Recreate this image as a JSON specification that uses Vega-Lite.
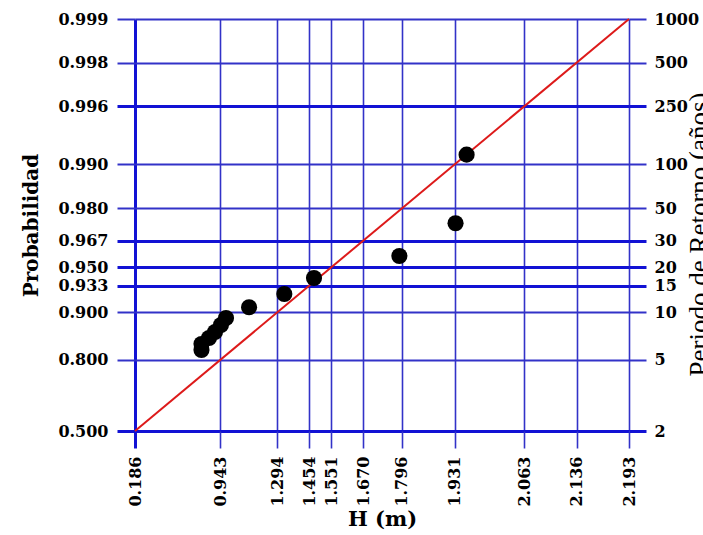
{
  "$schema": "https://vega.github.io/schema/vega-lite/v6.json",
  "width": 494,
  "height": 412,
  "autosize": {"type": "none"},
  "padding": {"left": 135, "top": 19, "right": 74, "bottom": 104},
  "background": "white",
  "config": {
    "view": {"stroke": null},
    "axis": {
      "labelFont": "DejaVu Serif", "labelFontWeight": "bold", "labelFontSize": 16, "labelColor": "black",
      "titleFont": "DejaVu Serif", "titleFontWeight": "bold", "titleFontSize": 20, "titleColor": "black",
      "domain": false, "labelOverlap": false, "labelFlush": false, "labelBound": false
    }
  },
  "datasets": {
    "obs": [
      {"H": 0.778, "p": 0.8203},
      {"H": 0.778, "p": 0.833},
      {"H": 0.845, "p": 0.8457},
      {"H": 0.8985, "p": 0.8584},
      {"H": 0.949, "p": 0.8732},
      {"H": 0.98, "p": 0.8879},
      {"H": 1.122, "p": 0.9063},
      {"H": 1.3305, "p": 0.9229},
      {"H": 1.476, "p": 0.9402},
      {"H": 1.789, "p": 0.957},
      {"H": 1.933, "p": 0.9739},
      {"H": 1.954, "p": 0.991}
    ],
    "fit": [
      {"H": 0.186, "p": 0.5},
      {"H": 2.193, "p": 0.999}
    ]
  },
  "layer": [
    {
      "data": {"name": "fit"},
      "mark": {"type": "line", "color": "#dd1a1a", "strokeWidth": 2},
      "encoding": {
        "x": {
          "field": "H", "type": "quantitative",
          "scale": {"type": "linear", "nice": false, "zero": false,
            "domain": [0.186, 0.943, 1.294, 1.454, 1.551, 1.67, 1.796, 1.931, 2.063, 2.136, 2.193],
            "range": [0, 85, 142, 174, 196, 228, 266.5, 319.5, 389, 441.5, 494]},
          "axis": {
            "title": "H (m)", "format": ".3f", "labelAngle": -90, "titleFontSize": 21,
            "values": [0.186, 0.943, 1.294, 1.454, 1.551, 1.67, 1.796, 1.931, 2.063, 2.136, 2.193],
            "grid": true,
            "gridColor": {"condition": {"test": "datum.value == 0.186", "value": "#1212d4"}, "value": "#3232c8"},
            "gridWidth": {"condition": {"test": "datum.value == 0.186", "value": 3}, "value": 1.6},
            "tickColor": {"condition": {"test": "datum.value == 0.186", "value": "#1212d4"}, "value": "#3232c8"},
            "tickWidth": {"condition": {"test": "datum.value == 0.186", "value": 3}, "value": 1.6},
            "tickSize": 17, "labelPadding": 8, "titlePadding": 2
          }
        },
        "y": {
          "field": "p", "type": "quantitative",
          "scale": {"type": "linear", "nice": false, "zero": false,
            "domain": [0.5, 0.8, 0.9, 0.93333, 0.95, 0.96667, 0.98, 0.99, 0.996, 0.998, 0.999],
            "range": [412, 340.6, 293.3, 266.7, 248.0, 221.9, 189.3, 145.3, 87.4, 43.7, 0]},
          "axis": {
            "orient": "left", "title": "Probabilidad", "format": ".3f",
            "values": [0.5, 0.8, 0.9, 0.93333, 0.95, 0.96667, 0.98, 0.99, 0.996, 0.998, 0.999],
            "grid": true,
            "gridColor": {"condition": {"test": "datum.value == 0.5 || datum.value == 0.93333 || datum.value == 0.95 || datum.value == 0.96667 || datum.value == 0.996", "value": "#1212d4"}, "value": "#3232c8"},
            "gridWidth": {"condition": {"test": "datum.value == 0.5 || datum.value == 0.93333 || datum.value == 0.95 || datum.value == 0.96667 || datum.value == 0.996", "value": 3}, "value": 2},
            "tickColor": {"condition": {"test": "datum.value == 0.5 || datum.value == 0.93333 || datum.value == 0.95 || datum.value == 0.96667 || datum.value == 0.996", "value": "#1212d4"}, "value": "#3232c8"},
            "tickWidth": {"condition": {"test": "datum.value == 0.5 || datum.value == 0.93333 || datum.value == 0.95 || datum.value == 0.96667 || datum.value == 0.996", "value": 3}, "value": 2},
            "tickSize": 18, "labelPadding": 9, "titlePadding": 16
          }
        }
      }
    },
    {
      "data": {"name": "obs"},
      "mark": {"type": "circle", "color": "black", "opacity": 1, "size": 260},
      "encoding": {
        "x": {
          "field": "H", "type": "quantitative",
          "scale": {"type": "linear", "nice": false, "zero": false,
            "domain": [0.186, 0.943, 1.294, 1.454, 1.551, 1.67, 1.796, 1.931, 2.063, 2.136, 2.193],
            "range": [0, 85, 142, 174, 196, 228, 266.5, 319.5, 389, 441.5, 494]},
          "axis": {
            "title": "H (m)", "format": ".3f", "labelAngle": -90, "titleFontSize": 21,
            "values": [0.186, 0.943, 1.294, 1.454, 1.551, 1.67, 1.796, 1.931, 2.063, 2.136, 2.193],
            "grid": true,
            "gridColor": {"condition": {"test": "datum.value == 0.186", "value": "#1212d4"}, "value": "#3232c8"},
            "gridWidth": {"condition": {"test": "datum.value == 0.186", "value": 3}, "value": 1.6},
            "tickColor": {"condition": {"test": "datum.value == 0.186", "value": "#1212d4"}, "value": "#3232c8"},
            "tickWidth": {"condition": {"test": "datum.value == 0.186", "value": 3}, "value": 1.6},
            "tickSize": 17, "labelPadding": 8, "titlePadding": 2
          }
        },
        "y": {
          "field": "p", "type": "quantitative",
          "scale": {"type": "linear", "nice": false, "zero": false,
            "domain": [0.5, 0.8, 0.9, 0.93333, 0.95, 0.96667, 0.98, 0.99, 0.996, 0.998, 0.999],
            "range": [412, 340.6, 293.3, 266.7, 248.0, 221.9, 189.3, 145.3, 87.4, 43.7, 0]},
          "axis": {
            "orient": "right", "title": "Periodo de Retorno (años)",
            "values": [0.5, 0.8, 0.9, 0.93333, 0.95, 0.96667, 0.98, 0.99, 0.996, 0.998, 0.999],
            "labelExpr": "round(1 / (1 - datum.value))",
            "grid": false,
            "tickColor": {"condition": {"test": "datum.value == 0.5 || datum.value == 0.93333 || datum.value == 0.95 || datum.value == 0.96667 || datum.value == 0.996", "value": "#1212d4"}, "value": "#3232c8"},
            "tickWidth": {"condition": {"test": "datum.value == 0.5 || datum.value == 0.93333 || datum.value == 0.95 || datum.value == 0.96667 || datum.value == 0.996", "value": 3}, "value": 2},
            "tickSize": 17, "labelPadding": 8,
            "titleFont": "Liberation Serif", "titleFontWeight": "normal", "titleFontSize": 27,
            "titleAngle": 270, "titleX": 78, "titleY": 215, "titleAlign": "center", "titleBaseline": "alphabetic"
          }
        }
      }
    }
  ],
  "resolve": {"axis": {"y": "independent"}}
}
